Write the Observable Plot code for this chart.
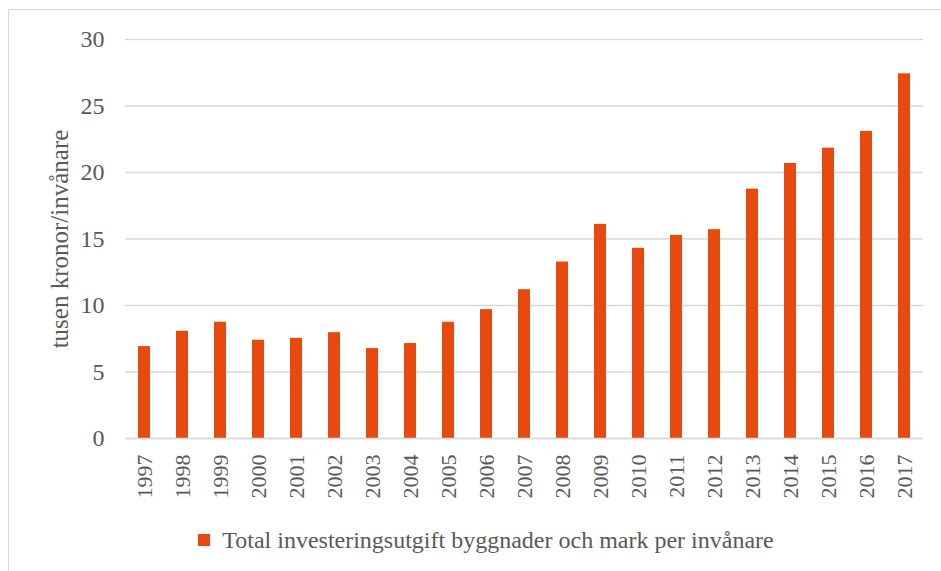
<!DOCTYPE html>
<html>
<head>
<meta charset="utf-8">
<script src="https://cdn.jsdelivr.net/npm/d3@7"></script>
<script src="https://cdn.jsdelivr.net/npm/@observablehq/plot@0.6"></script>
<style>
  html, body { margin: 0; padding: 0; background: #fff; }
  #wrap { position: relative; width: 941px; height: 571px; overflow: hidden; font-family: "Liberation Serif", "Times New Roman", serif; color: #595959; }
  #frame { position: absolute; left: 8px; top: 9px; width: 1200px; height: 1200px; border-left: 1.5px solid #d9d9d9; border-top: 1.5px solid #d9d9d9; box-sizing: border-box; }
  #chart { position: absolute; left: 0; top: 0; }
  #legend { position: absolute; left: 0; top: 515px; width: 941px; height: 50px; box-sizing: border-box; padding-left: 31px; display: flex; justify-content: center; align-items: center; font-size: 24px; }
  #legend .sw { width: 12px; height: 12px; background: #e8490f; margin-right: 12px; }
</style>
</head>
<body>
<div id="wrap">
  <div id="frame"></div>
  <div id="chart"></div>
  <div id="legend"></div>
</div>
<script>
const years = ["1997","1998","1999","2000","2001","2002","2003","2004","2005","2006","2007","2008","2009","2010","2011","2012","2013","2014","2015","2016","2017"];
const values = [6.91, 8.06, 8.74, 7.39, 7.53, 7.96, 6.76, 7.14, 8.74, 9.69, 11.19, 13.27, 16.10, 14.30, 15.27, 15.70, 18.75, 20.68, 21.83, 23.09, 27.42];
const yTicks = [0, 5, 10, 15, 20, 25, 30];
const seriesLabel = "Total investeringsutgift byggnader och mark per invånare";
const yLabel = "tusen kronor/invånare";
const barColor = "#e8490f";

const data = years.map((year, i) => ({year, value: values[i]}));

const chart = Plot.plot({
  width: 941,
  height: 515,
  marginTop: 39,
  marginBottom: 77,
  marginLeft: 125,
  marginRight: 18,
  style: {fontFamily: '"Liberation Serif", "Times New Roman", serif', color: "#595959", background: "transparent", overflow: "visible"},
  x: {domain: years, paddingInner: 0.69, paddingOuter: 0.345, label: null},
  y: {domain: [0, 30], label: null},
  marks: [
    Plot.ruleY(yTicks, {stroke: "#d9d9d9", strokeWidth: 1.5}),
    Plot.barY(data, {x: "year", y: "value", fill: barColor}),
    Plot.ruleY([0], {stroke: "#d9d9d9", strokeWidth: 1.5}),
    Plot.axisY(yTicks, {tickSize: 0, tickPadding: 21, fontSize: 24, label: null}),
    Plot.axisX({tickSize: 0, tickRotate: -90, tickPadding: 16, fontSize: 22, label: null}),
    Plot.text([yLabel], {text: d => d, frameAnchor: "left", textAnchor: "middle", lineAnchor: "middle", dx: -66, rotate: -90, fontSize: 25, fill: "#595959"})
  ]
});
document.getElementById("chart").appendChild(chart);

const legend = document.getElementById("legend");
const sw = document.createElement("div");
sw.className = "sw";
sw.style.background = barColor;
const lt = document.createElement("span");
lt.textContent = seriesLabel;
legend.appendChild(sw);
legend.appendChild(lt);
</script>
</body>
</html>
